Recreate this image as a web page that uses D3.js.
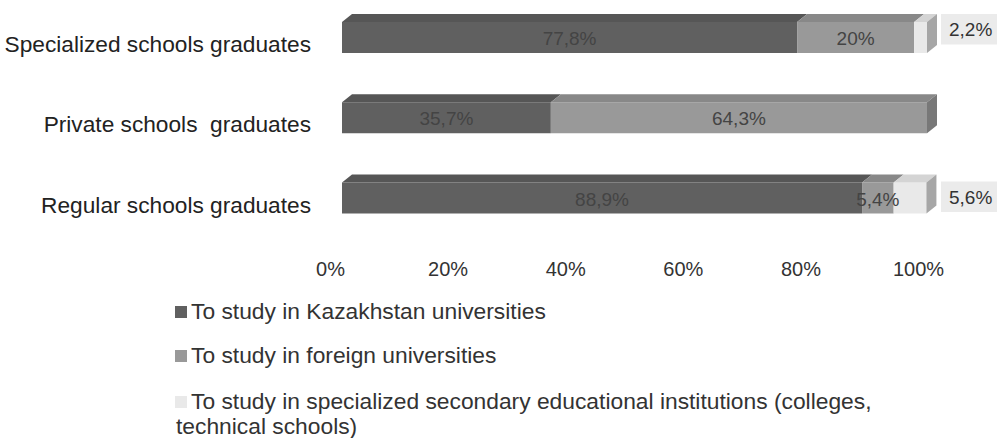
<!DOCTYPE html>
<html>
<head>
<meta charset="utf-8">
<script src="https://cdn.jsdelivr.net/npm/d3@7"></script>
<style>
  html, body { margin: 0; padding: 0; background: #fff; }
  svg { display: block; font-family: "Liberation Sans", Arial, sans-serif; }
  text { white-space: pre; }
</style>
</head>
<body>
<svg id="chart" width="997" height="438"></svg>
<script>
const categories = ["Specialized schools graduates", "Private schools  graduates", "Regular schools graduates"];
const seriesNames = [
  "To study in Kazakhstan universities",
  "To study in foreign universities",
  "To study in specialized secondary educational institutions (colleges, technical schools)"
];
const kazakhstan = [77.8, 35.7, 88.9];
const foreign = [20, 64.3, 5.4];
const colleges = [2.2, 0, 5.6];
const tickValues = [0, 20, 40, 60, 80, 100];

const colors = {
  front: ["#606060", "#999999", "#e9e9e9"],
  top:   ["#565656", "#888888", "#d4d4d4"],
  side:  ["#505050", "#787878", "#a6a6a6"]
};

const svg = d3.select("#chart");
const fmt = v => String(v).replace(".", ",") + "%";

const x = d3.scaleLinear().domain([0, 100]).range([342, 927]);
const xAxisScale = d3.scaleLinear().domain([0, 100]).range([330, 918]);
const y = d3.scalePoint().domain(categories).range([37.5, 198]);
const barH = 31, dx = 10, dy = 8;
// vertical shift of the boxed outside labels per row (layout only)
const outsideShift = [-8, 0, -1];

const seriesVals = [kazakhstan, foreign, colleges];
const rows = categories.map((c, i) => {
  let acc = 0;
  const segs = seriesVals.map((arr, s) => {
    const v = arr[i];
    const seg = { s, v, x0: acc, x1: acc + v };
    acc += v;
    return seg;
  }).filter(d => d.v > 0);
  return { cat: c, i, segs };
});

const g = svg.append("g");
rows.forEach(row => {
  const yT = y(row.cat) - barH / 2, yB = y(row.cat) + barH / 2;
  const rg = g.append("g");
  row.segs.forEach((seg, k) => {
    const a = x(seg.x0), b = x(seg.x1);
    rg.append("rect").attr("x", a).attr("y", yT).attr("width", b - a).attr("height", barH)
      .attr("fill", colors.front[seg.s]);
    rg.append("path")
      .attr("d", `M${a},${yT}L${b},${yT}L${b + dx},${yT - dy}L${a + dx},${yT - dy}Z`)
      .attr("fill", colors.top[seg.s]);
    if (k === row.segs.length - 1) {
      rg.append("path")
        .attr("d", `M${b},${yT}L${b + dx},${yT - dy}L${b + dx},${yB - dy}L${b},${yB}Z`)
        .attr("fill", colors.side[seg.s]);
    }
  });
  row.segs.forEach(seg => {
    const a = x(seg.x0), b = x(seg.x1);
    if (seg.s === 2) {
      const bx = x(100) + dx + 4;
      const by = yT + outsideShift[row.i];
      rg.append("rect").attr("x", bx).attr("y", by).attr("width", 997 - bx).attr("height", 30.5)
        .attr("fill", "#ebebeb");
      rg.append("text").attr("x", bx + 8).attr("y", by + 22)
        .attr("font-size", 19).attr("fill", "#333").text(fmt(seg.v));
    } else {
      rg.append("text").attr("x", (a + b) / 2).attr("y", y(row.cat) + 1).attr("dy", "0.35em")
        .attr("text-anchor", "middle").attr("font-size", 19).attr("fill", "#444")
        .text(fmt(seg.v));
    }
  });
});

// category labels
g.selectAll(".cat").data(categories).join("text")
  .attr("class", "cat")
  .attr("x", 311).attr("y", d => y(d) + 14.5)
  .attr("text-anchor", "end").attr("font-size", 22.7).attr("fill", "#222")
  .text(d => d);

// x axis
const axis = d3.axisBottom(xAxisScale).tickValues(tickValues).tickFormat(d => d + "%").tickSize(0);
const ag = svg.append("g").attr("transform", "translate(0,259)").call(axis);
ag.select(".domain").remove();
ag.selectAll("text").attr("font-size", 20).attr("fill", "#333").attr("font-family", "Liberation Sans, Arial, sans-serif");

// legend
const legendBase = [319, 363, 409];
const lg = svg.append("g");
seriesNames.forEach((name, i) => {
  lg.append("rect").attr("x", 175).attr("y", legendBase[i] - 13).attr("width", 12).attr("height", 12)
    .attr("fill", colors.front[i]);
  const t = lg.append("text").attr("x", 191).attr("y", legendBase[i])
    .attr("font-size", 22.8).attr("fill", "#333");
  if (i === 2) {
    t.append("tspan").text("To study in specialized secondary educational institutions (colleges,");
    t.append("tspan").attr("x", 176).attr("dy", 25).text("technical schools)");
  } else {
    t.text(name);
  }
});
</script>
</body>
</html>
